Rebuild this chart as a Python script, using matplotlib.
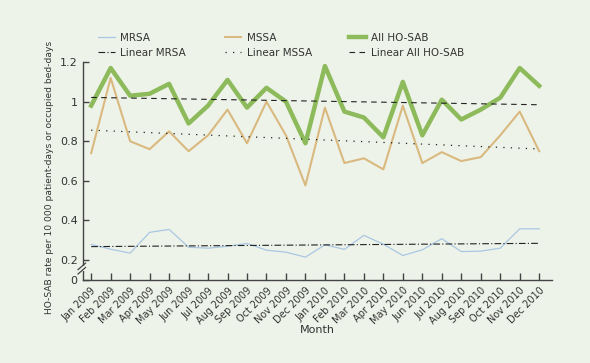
import numpy as np
import matplotlib.pyplot as plt
from matplotlib.lines import Line2D
from matplotlib.patches import Rectangle

months = ["Jan 2009", "Feb 2009", "Mar 2009", "Apr 2009", "May 2009", "Jun 2009",
          "Jul 2009", "Aug 2009", "Sep 2009", "Oct 2009", "Nov 2009", "Dec 2009",
          "Jan 2010", "Feb 2010", "Mar 2010", "Apr 2010", "May 2010", "Jun 2010",
          "Jul 2010", "Aug 2010", "Sep 2010", "Oct 2010", "Nov 2010", "Dec 2010"]

mrsa = [0.279, 0.255, 0.235, 0.34, 0.355, 0.265, 0.26, 0.27, 0.284, 0.25, 0.24, 0.215,
        0.277, 0.254, 0.325, 0.28, 0.223, 0.252, 0.308, 0.243, 0.245, 0.26, 0.358, 0.358]
mssa = [0.74, 1.12, 0.80, 0.76, 0.85, 0.75, 0.83, 0.96, 0.79, 1.00, 0.83, 0.577,
        0.97, 0.69, 0.714, 0.658, 0.98, 0.69, 0.745, 0.70, 0.72, 0.83, 0.95, 0.75]
all_hosab = [0.98, 1.17, 1.03, 1.04, 1.09, 0.89, 0.98, 1.11, 0.97, 1.07, 1.00, 0.79,
             1.18, 0.95, 0.92, 0.82, 1.10, 0.83, 1.01, 0.91, 0.96, 1.02, 1.17, 1.08]

bg = "#eef3e9"
c_mrsa = "#a9c7e3"
c_mssa = "#d9b97f"
c_all = "#8dba5b"
dark = "#333333"
trend_c = "#222222"

plt.rcParams['font.family'] = ['DejaVu Sans']

fig = plt.figure(figsize=(5.9, 3.63), dpi=100, facecolor=bg)
ax = fig.add_axes([0.141, 0.229, 0.795, 0.600])
ax.set_facecolor(bg)

x = np.arange(len(months))

def trend(y):
    k, b = np.polyfit(x, y, 1)
    return k * x + b

ls_mrsa = (0, (6, 2, 1, 2))
ls_mssa = (0, (1, 5))
ls_all = (0, (5, 4))

ax.plot(x, mrsa, color=c_mrsa, lw=0.9)
ax.plot(x, mssa, color=c_mssa, lw=1.5)
ax.plot(x, all_hosab, color=c_all, lw=3.2)
ax.plot(x, trend(mrsa), color=trend_c, lw=0.8, ls=ls_mrsa)
ax.plot(x, trend(mssa), color=trend_c, lw=0.9, ls=ls_mssa)
ax.plot(x, trend(all_hosab), color=trend_c, lw=0.8, ls=ls_all)

ax.set_xlim(-0.41, 23.67)
ax.set_ylim(0.1, 1.2)
ax.set_xticks(x)
ax.set_xticklabels(months, rotation=45, ha="right", rotation_mode="anchor", fontsize=7, color=dark)
ax.set_yticks([0.1, 0.2, 0.4, 0.6, 0.8, 1.0, 1.2])
ax.set_yticklabels(["0", "0.2", "0.4", "0.6", "0.8", "1", "1.2"], fontsize=8, color=dark)
ax.tick_params(direction="in", length=5, width=1, color="#444444", pad=4)
ax.tick_params(axis="y", length=4)
for s in ["top", "right"]:
    ax.spines[s].set_visible(False)
for s in ["left", "bottom"]:
    ax.spines[s].set_color("#444444")
    ax.spines[s].set_linewidth(1)

# axis break between 0 and 0.2
ax.add_patch(Rectangle((-0.02, 0.042), 0.04, 0.02, transform=ax.transAxes,
                       facecolor=bg, edgecolor="none", clip_on=False, zorder=5))
for yb in (0.042, 0.062):
    ax.add_line(Line2D([-0.011, 0.005], [yb - 0.015, yb + 0.015], transform=ax.transAxes,
                       color="#444444", lw=0.9, clip_on=False, zorder=6))

ax.set_ylabel("HO-SAB rate per 10 000 patient-days or occupied bed-days", fontsize=6.6, color=dark)
ax.yaxis.set_label_coords(-0.062, 0.472)
ax.set_xlabel("Month", fontsize=8, color=dark, va="top")
ax.xaxis.set_label_coords(0.5, -0.205)

legend_cols = [
    (0.166, [Line2D([], [], color=c_mrsa, lw=0.9), Line2D([], [], color=trend_c, lw=0.8, ls=ls_mrsa)],
     ["MRSA", "Linear MRSA"]),
    (0.381, [Line2D([], [], color=c_mssa, lw=1.5), Line2D([], [], color=trend_c, lw=0.9, ls=ls_mssa)],
     ["MSSA", "Linear MSSA"]),
    (0.592, [Line2D([], [], color=c_all, lw=3.2), Line2D([], [], color=trend_c, lw=0.8, ls=ls_all)],
     ["All HO-SAB", "Linear All HO-SAB"]),
]
for xpos, hs, ls in legend_cols:
    fig.legend(hs, ls, loc="upper left", bbox_to_anchor=(xpos, 0.909), frameon=False,
               fontsize=7.5, handlelength=1.6, borderpad=0, borderaxespad=0,
               labelspacing=0.45, handletextpad=0.5, labelcolor=dark)

plt.savefig("out.png", dpi=100, facecolor=bg)
